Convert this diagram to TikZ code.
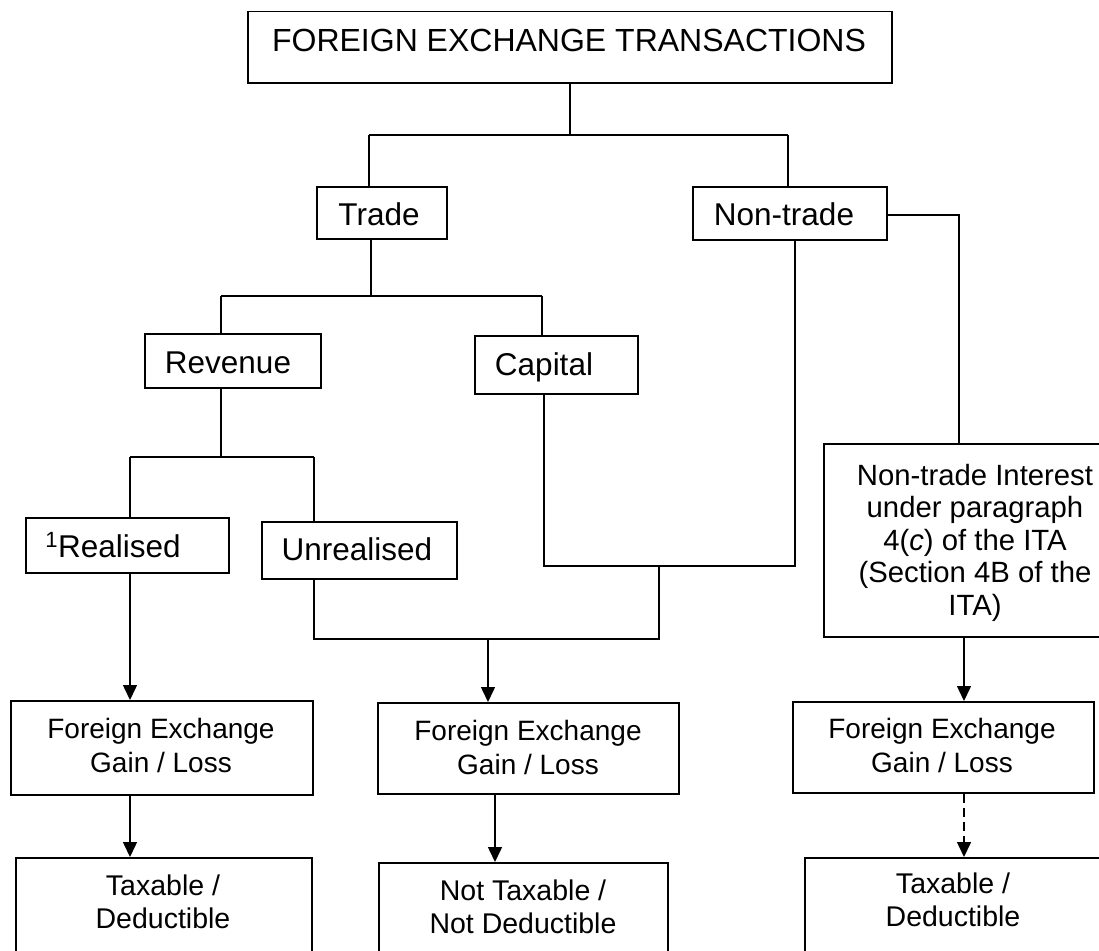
\documentclass[tikz,border=0pt]{standalone}
\usepackage{fontspec}
\setmainfont{Liberation Sans}
\usetikzlibrary{arrows.meta}
\begin{document}
\begin{tikzpicture}[x=1pt,y=-1pt,
  box/.style={draw, line width=1.5pt, inner sep=0pt, anchor=north west},
  txt/.style={inner sep=0pt, align=center},
  big/.style={font=\fontsize{32}{38}\selectfont},
  mid/.style={font=\fontsize{31.5}{38}\selectfont},
  small/.style={font=\fontsize{28}{34}\selectfont},
  ln/.style={line width=1.5pt},
  arr/.style={line width=1.5pt, -{Triangle[width=14pt,length=15pt]}},
  ]
\clip (0,0) rectangle (1099,950);
\fill[white] (0,0) rectangle (1099,950);
% boxes
\node[box, minimum width=644pt, minimum height=71pt] (top) at (247,11) {};
\node[box, minimum width=130pt, minimum height=52pt] (trade) at (316,186) {};
\node[box, minimum width=194pt, minimum height=53pt] (nontrade) at (692,186) {};
\node[box, minimum width=176pt, minimum height=54pt] (revenue) at (144,333) {};
\node[box, minimum width=163pt, minimum height=58pt] (capital) at (474,335) {};
\node[box, minimum width=203pt, minimum height=55pt] (realised) at (25,517) {};
\node[box, minimum width=195pt, minimum height=57pt] (unrealised) at (261,521) {};
\node[box, minimum width=300pt, minimum height=193pt] (nti) at (823,443) {};
\node[box, minimum width=302pt, minimum height=94pt] (fxl) at (10,700) {};
\node[box, minimum width=301pt, minimum height=91pt] (fxm) at (377,702) {};
\node[box, minimum width=301pt, minimum height=91pt] (fxr) at (792,701) {};
\node[box, minimum width=296pt, minimum height=120pt] (taxl) at (15,857) {};
\node[box, minimum width=289pt, minimum height=120pt] (taxm) at (378,862) {};
\node[box, minimum width=320pt, minimum height=120pt] (taxr) at (804,857) {};
% texts
\node[txt, big, anchor=base] (ttop) at (569,52) {FOREIGN EXCHANGE TRANSACTIONS};
\node[txt, mid, anchor=base] (ttrade) at (379,225) {Trade};
\node[txt, mid, anchor=base] (tnontrade) at (784,225) {Non-trade};
\node[txt, mid, anchor=base] (trevenue) at (228,373) {Revenue};
\node[txt, mid, anchor=base] (tcapital) at (544,375) {Capital};
\node[txt, mid, anchor=base] (trealised) at (113,557) {\textsuperscript{1}Realised};
\node[txt, mid, anchor=base] (tunrealised) at (357,560) {Unrealised};
\node[txt, font=\fontsize{29.3}{32.5}\selectfont, anchor=north] (tnti) at (975,464) {Non-trade Interest\\under paragraph\\4(\textit{c}) of the ITA\\(Section 4B of the\\ITA)};
\node[txt, small, anchor=north] (tfxl) at (161,718) {Foreign Exchange\\Gain / Loss};
\node[txt, small, anchor=north] (tfxm) at (528,720) {Foreign Exchange\\Gain / Loss};
\node[txt, small, anchor=north] (tfxr) at (942,718) {Foreign Exchange\\Gain / Loss};
\node[txt, font=\fontsize{28.5}{33.5}\selectfont, anchor=north] (ttaxl) at (163,874.5) {Taxable /\\Deductible};
\node[txt, font=\fontsize{28.5}{33.5}\selectfont, anchor=north] (ttaxm) at (523,879.5) {Not Taxable /\\Not Deductible};
\node[txt, font=\fontsize{28.5}{33.5}\selectfont, anchor=north] (ttaxr) at (953,872.5) {Taxable /\\Deductible};
% junction coordinates
\coordinate (j1l) at (369,135);
\coordinate (j1r) at (788,135);
\coordinate (j2) at (371,296);
\coordinate (j2l) at (221,296);
\coordinate (j2r) at (542,296);
\coordinate (c1) at (959,215);
\coordinate (j3) at (221,457);
\coordinate (j3l) at (130,457);
\coordinate (j3r) at (314,457);
\coordinate (j4l) at (544,566);
\coordinate (j4) at (659,566);
\coordinate (j4r) at (795,566);
\coordinate (j5l) at (314,639);
\coordinate (j5r) at (659,639);
\coordinate (j5) at (488,639);
\coordinate (a2) at (495,800);
\coordinate (a3) at (964,640);
% connectors
\draw[ln] (top.south) -- (top.south |- j1l);
\draw[ln] (j1l) -- (j1r);
\draw[ln] (j1l) -- (j1l |- trade.north);
\draw[ln] (j1r) -- (j1r |- nontrade.north);
\draw[ln] (j2 |- trade.south) -- (j2);
\draw[ln] (j2l) -- (j2r);
\draw[ln] (j2l) -- (j2l |- revenue.north);
\draw[ln] (j2r) -- (j2r |- capital.north);
\draw[ln] (nontrade.east |- c1) -- (c1) -- (c1 |- nti.north);
\draw[ln] (j3 |- revenue.south) -- (j3);
\draw[ln] (j3l) -- (j3r);
\draw[ln] (j3l) -- (j3l |- realised.north);
\draw[ln] (j3r) -- (j3r |- unrealised.north);
\draw[ln] (j4l |- capital.south) -- (j4l) -- (j4r) -- (j4r |- nontrade.south);
\draw[ln] (j5l |- unrealised.south) -- (j5l) -- (j5r) -- (j4);
\draw[arr] (j5) -- (j5 |- fxm.north);
\draw[arr] (j3l |- realised.south) -- (j3l |- fxl.north);
\draw[arr] (a3 |- nti.south) -- (a3 |- fxr.north);
\draw[arr] (j3l |- fxl.south) -- (j3l |- taxl.north);
\draw[arr] (a2 |- fxm.south) -- (a2 |- taxm.north);
\draw[arr, dash pattern=on 9pt off 5pt] (a3 |- fxr.south) -- (a3 |- taxr.north);
\end{tikzpicture}
\end{document}
